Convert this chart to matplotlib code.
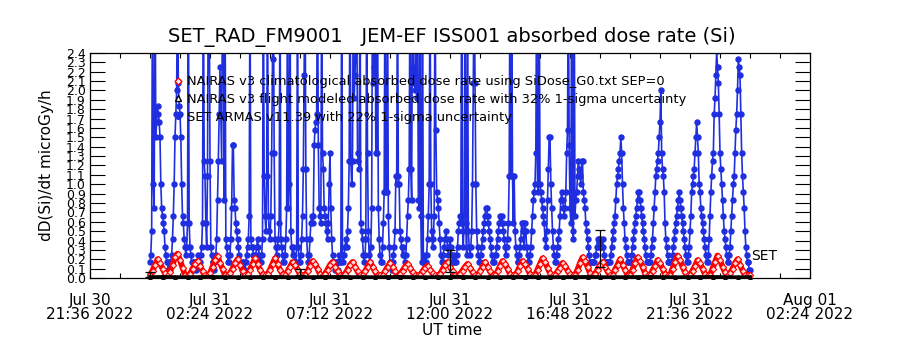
import numpy as np
import matplotlib
matplotlib.use('Agg')
import matplotlib.pyplot as plt
from matplotlib.lines import Line2D

# time axis: hours since 2022-07-31 00:00 UT
x_range = (-2.4, 26.4)
x_label_pos = [-2.4, 2.4, 7.2, 12.0, 16.8, 21.6, 26.4]
x_labels = ['Jul 30\n21:36 2022', 'Jul 31\n02:24 2022', 'Jul 31\n07:12 2022',
            'Jul 31\n12:00 2022', 'Jul 31\n16:48 2022', 'Jul 31\n21:36 2022',
            'Aug 01\n02:24 2022']

# NAIRAS v3 climatological dose rate, one value every 6 min from 00:00
clim_step_h = 0.1
nairas_clim = [
    0.03, 0.08, 0.14, 0.20, 0.16, 0.10, 0.05, 0.03, 0.06, 0.14,
    0.22, 0.26, 0.19, 0.11, 0.03, 0.03, 0.04, 0.10, 0.15, 0.18,
    0.13, 0.07, 0.03, 0.03, 0.05, 0.12, 0.19, 0.23, 0.16, 0.10,
    0.03, 0.03, 0.05, 0.10, 0.16, 0.20, 0.14, 0.08, 0.03, 0.04,
    0.09, 0.15, 0.21, 0.15, 0.09, 0.04, 0.03, 0.04, 0.09, 0.15,
    0.21, 0.15, 0.09, 0.04, 0.03, 0.07, 0.12, 0.17, 0.14, 0.09,
    0.04, 0.03, 0.03, 0.07, 0.13, 0.18, 0.15, 0.10, 0.04, 0.03,
    0.04, 0.09, 0.14, 0.17, 0.12, 0.07, 0.03, 0.03, 0.04, 0.09,
    0.14, 0.17, 0.12, 0.07, 0.03, 0.03, 0.07, 0.12, 0.17, 0.12,
    0.07, 0.03, 0.03, 0.03, 0.07, 0.12, 0.16, 0.12, 0.07, 0.03,
    0.04, 0.08, 0.12, 0.15, 0.11, 0.06, 0.03, 0.03, 0.03, 0.07,
    0.11, 0.13, 0.09, 0.05, 0.03, 0.03, 0.04, 0.09, 0.14, 0.17,
    0.12, 0.07, 0.03, 0.03, 0.04, 0.08, 0.12, 0.15, 0.11, 0.06,
    0.03, 0.03, 0.07, 0.12, 0.17, 0.12, 0.07, 0.03, 0.03, 0.07,
    0.13, 0.18, 0.15, 0.10, 0.04, 0.03, 0.03, 0.07, 0.13, 0.18,
    0.15, 0.10, 0.04, 0.03, 0.03, 0.09, 0.15, 0.21, 0.17, 0.11,
    0.05, 0.03, 0.03, 0.07, 0.11, 0.16, 0.13, 0.08, 0.04, 0.03,
    0.03, 0.09, 0.16, 0.22, 0.18, 0.12, 0.05, 0.03, 0.04, 0.09,
    0.14, 0.17, 0.12, 0.07, 0.03, 0.03, 0.09, 0.14, 0.20, 0.14,
    0.09, 0.03, 0.03, 0.09, 0.16, 0.22, 0.18, 0.12, 0.05, 0.03,
    0.03, 0.08, 0.13, 0.19, 0.16, 0.10, 0.04, 0.03, 0.03, 0.10,
    0.17, 0.24, 0.19, 0.12, 0.06, 0.03, 0.03, 0.08, 0.13, 0.19,
    0.16, 0.10, 0.04, 0.03, 0.03, 0.10, 0.17, 0.24, 0.19, 0.12,
    0.06, 0.03, 0.05, 0.10, 0.16, 0.20, 0.14, 0.08, 0.03, 0.03,
    0.03]

# NAIRAS v3 flight modeled dose rate, every 30 min
flight_step_h = 0.5
nairas_flight = [0.010, 0.012, 0.010, 0.009, 0.011, 0.012, 0.010, 0.009, 0.010, 0.011,
                 0.012, 0.010, 0.009, 0.010, 0.011, 0.012, 0.010, 0.010, 0.009, 0.011,
                 0.012, 0.010, 0.009, 0.010, 0.011, 0.012, 0.010, 0.009, 0.010, 0.011,
                 0.012, 0.010, 0.009, 0.010, 0.011, 0.012, 0.010, 0.009, 0.010, 0.011,
                 0.012, 0.010, 0.009, 0.010, 0.011, 0.012, 0.010, 0.009, 0.010]
# 32% uncertainty bars
err_t = [0.0, 6.0, 12.0, 18.0]
err_lo = [0.01, 0.03, 0.06, 0.12]
err_hi = [0.06, 0.10, 0.30, 0.51]

# SET ARMAS dose rate in instrument counts (1 count = 1/12 microGy/h), every 2 min
set_step_min = 2
dose_per_count = 1.0 / 12.0
set_counts = [
    2, 3, 6, 40, 12, 9, 40, 18, 20, 22, 21, 20, 18, 12, 9, 8, 7, 6, 4, 3, 2, 2, 1, 1, 2, 2, 3, 5, 8, 12,
    18, 21, 24, 40, 25, 22, 21, 18, 12, 8, 7, 5, 4, 3, 4, 7, 40, 7, 4, 3, 2, 2, 1, 2, 2, 1, 2, 2, 3, 2,
    2, 3, 4, 7, 40, 15, 13, 7, 4, 13, 40, 40, 15, 4, 3, 2, 2, 1, 2, 3, 5, 10, 15, 21, 27, 21, 15, 40, 40, 10,
    40, 5, 4, 3, 2, 2, 3, 5, 9, 17, 17, 10, 9, 7, 6, 5, 4, 3, 2, 2, 1, 1, 2, 2, 1, 2, 3, 4, 5, 8,
    40, 5, 4, 4, 3, 3, 2, 3, 4, 5, 4, 3, 2, 2, 3, 5, 40, 13, 8, 6, 13, 40, 8, 6, 5, 8, 16, 28, 40, 16,
    5, 4, 3, 4, 5, 7, 40, 5, 4, 3, 2, 2, 3, 5, 9, 40, 9, 12, 40, 6, 4, 3, 4, 3, 2, 2, 4, 40, 4, 2,
    2, 3, 5, 8, 14, 26, 40, 14, 5, 3, 2, 3, 5, 7, 8, 7, 8, 17, 19, 20, 21, 40, 17, 9, 8, 7, 40, 16, 14, 9,
    8, 7, 6, 5, 7, 12, 16, 9, 5, 3, 2, 2, 1, 2, 2, 1, 2, 3, 2, 2, 40, 3, 2, 3, 4, 5, 4, 6, 9, 15,
    40, 15, 12, 15, 40, 23, 26, 29, 40, 16, 15, 14, 40, 7, 6, 5, 3, 2, 3, 5, 40, 16, 6, 3, 2, 4, 9, 40, 25, 27,
    40, 16, 16, 40, 9, 5, 3, 2, 2, 4, 7, 11, 40, 11, 11, 40, 8, 4, 2, 2, 1, 2, 3, 4, 6, 13, 12, 40, 13, 12,
    6, 5, 4, 3, 4, 3, 2, 3, 5, 8, 10, 14, 40, 14, 10, 40, 27, 25, 24, 40, 23, 40, 10, 9, 40, 8, 2, 40, 2, 2,
    3, 2, 3, 5, 8, 12, 40, 12, 6, 4, 5, 8, 40, 19, 11, 10, 9, 7, 5, 3, 2, 2, 3, 4, 5, 6, 5, 4, 3, 4,
    5, 4, 3, 2, 2, 3, 2, 2, 3, 4, 6, 7, 8, 7, 40, 6, 4, 8, 40, 7, 3, 40, 6, 4, 3, 4, 6, 12, 25, 40,
    25, 12, 6, 4, 3, 2, 2, 3, 4, 5, 6, 7, 8, 9, 9, 8, 7, 6, 5, 4, 3, 2, 2, 2, 3, 3, 4, 5, 6, 7,
    8, 7, 8, 7, 6, 5, 4, 3, 4, 5, 7, 13, 40, 13, 40, 13, 7, 13, 6, 4, 3, 2, 2, 3, 4, 5, 7, 7, 6, 4,
    7, 6, 4, 3, 2, 2, 3, 4, 6, 8, 10, 11, 12, 16, 40, 12, 11, 40, 12, 11, 10, 9, 8, 7, 5, 4, 6, 10, 14, 18,
    18, 12, 9, 6, 4, 3, 2, 2, 3, 4, 5, 6, 8, 10, 11, 10, 9, 8, 9, 11, 16, 19, 40, 17, 9, 7, 40, 6, 5, 40,
    8, 10, 11, 13, 15, 14, 13, 12, 15, 15, 11, 10, 9, 7, 6, 5, 4, 3, 2, 2, 2, 2, 2, 2, 3, 3, 4, 5, 4, 5,
    5, 4, 4, 5, 4, 3, 2, 2, 2, 2, 2, 2, 2, 3, 4, 5, 6, 7, 8, 10, 12, 13, 14, 15, 16, 18, 16, 12, 9, 7,
    5, 4, 3, 2, 2, 2, 2, 2, 3, 4, 5, 6, 7, 8, 9, 10, 11, 11, 10, 9, 8, 7, 6, 5, 4, 3, 2, 2, 2, 2,
    2, 3, 4, 5, 7, 9, 11, 13, 14, 15, 16, 18, 20, 24, 16, 14, 13, 11, 7, 5, 4, 3, 2, 2, 2, 2, 2, 3, 4, 5,
    6, 7, 8, 9, 10, 11, 10, 9, 8, 7, 6, 5, 4, 3, 2, 2, 3, 4, 6, 8, 11, 12, 13, 14, 16, 18, 20, 18, 16, 12,
    11, 9, 8, 7, 6, 5, 4, 3, 2, 2, 3, 5, 8, 11, 13, 15, 16, 21, 23, 26, 29, 27, 25, 21, 16, 14, 12, 10, 8, 6,
    5, 4, 3, 2, 2, 3, 4, 6, 8, 10, 12, 13, 16, 19, 21, 24, 28, 27, 26, 21, 16, 13, 11, 9, 6, 4, 3, 2, 2, 1,
    1]

legend_labels = ['NAIRAS v3 climatological absorbed dose rate using SiDose_G0.txt SEP=0',
                 'NAIRAS v3 flight modeled absorbed dose rate with 32% 1-sigma uncertainty',
                 'SET ARMAS v11.39 with 22% 1-sigma uncertainty']

BLUE = '#1f2fe0'
RED = '#ff0000'

plt.rcParams['font.family'] = ['DejaVu Sans']

fig = plt.figure(figsize=(9, 3.5), dpi=100)
ax = fig.add_axes([0.1, 0.2057, 0.8, 0.6429])

t_set = np.arange(len(set_counts)) * set_step_min / 60.0
dose_set = np.array(set_counts) * dose_per_count
ax.plot(t_set, dose_set, color=BLUE, lw=1.2, marker='o', ms=3.6, mec=BLUE,
        mfc=BLUE, zorder=2)

# climatological model: thick red band with open diamonds
t_clim = np.arange(len(nairas_clim)) * clim_step_h
ax.plot(t_clim, nairas_clim, color=RED, lw=4.2, solid_joinstyle='round',
        solid_capstyle='round', zorder=3)
ax.plot(t_clim, nairas_clim, ls='none', marker='D', ms=3.2, mfc='#ffd8d8',
        mec=RED, mew=0.8, zorder=3)

t_flight = np.arange(len(nairas_flight)) * flight_step_h
ax.plot(t_flight, nairas_flight, color='black', lw=2.6, marker='^', ms=2.5,
        zorder=4, clip_on=False)

mid = (np.array(err_lo) + np.array(err_hi)) / 2
ax.errorbar(err_t, mid, yerr=[mid - np.array(err_lo), np.array(err_hi) - mid],
            fmt='none', ecolor='black', elinewidth=0.9, capsize=3.5, capthick=0.9,
            zorder=5)

ax.text(24.05, 0.23, 'SET', fontsize=10, va='center', ha='left')

ax.set_xlim(*x_range)
ax.set_ylim(0, 2.4)

ax.set_xticks(x_label_pos)
ax.set_xticklabels(x_labels, fontsize=11, linespacing=0.9)
ax.set_xticks(np.arange(x_range[0], x_range[1] + 0.01, 1.2), minor=True)
ax.tick_params(axis='x', which='both', direction='in', top=True, bottom=True,
               length=3.5, width=0.8, pad=11)

yt = np.arange(0, 2.41, 0.1)
ax.set_yticks(yt)
ax.set_yticklabels(['%.1f' % v for v in yt], fontsize=9)
ax.tick_params(axis='y', which='both', direction='in', left=True, right=True,
               length=10.5, width=0.8, pad=3)

for s in ax.spines.values():
    s.set_linewidth(0.9)

handles = [Line2D([], [], ls='none', marker='D', ms=3.5, mfc='white', mec=RED),
           Line2D([], [], ls='none', marker='^', ms=4, mfc='white', mec='black'),
           Line2D([], [], ls='none', marker='o', ms=4, mfc=BLUE, mec=BLUE)]
ax.legend(handles, legend_labels, loc='upper left', bbox_to_anchor=(0.117, 0.90),
          frameon=False, fontsize=9.4, handlelength=0.6, handletextpad=0.4,
          labelspacing=0.35, borderpad=0, borderaxespad=0)

fig.text(0.502, 0.894, 'SET_RAD_FM9001   JEM-EF ISS001 absorbed dose rate (Si)',
         ha='center', va='center', fontsize=14)
fig.text(0.052, 0.529, 'dD(Si)/dt microGy/h', rotation=90, ha='center',
         va='center', fontsize=11)
fig.text(0.502, 0.057, 'UT time', ha='center', va='center', fontsize=11)

fig.savefig('out.png', dpi=100)
